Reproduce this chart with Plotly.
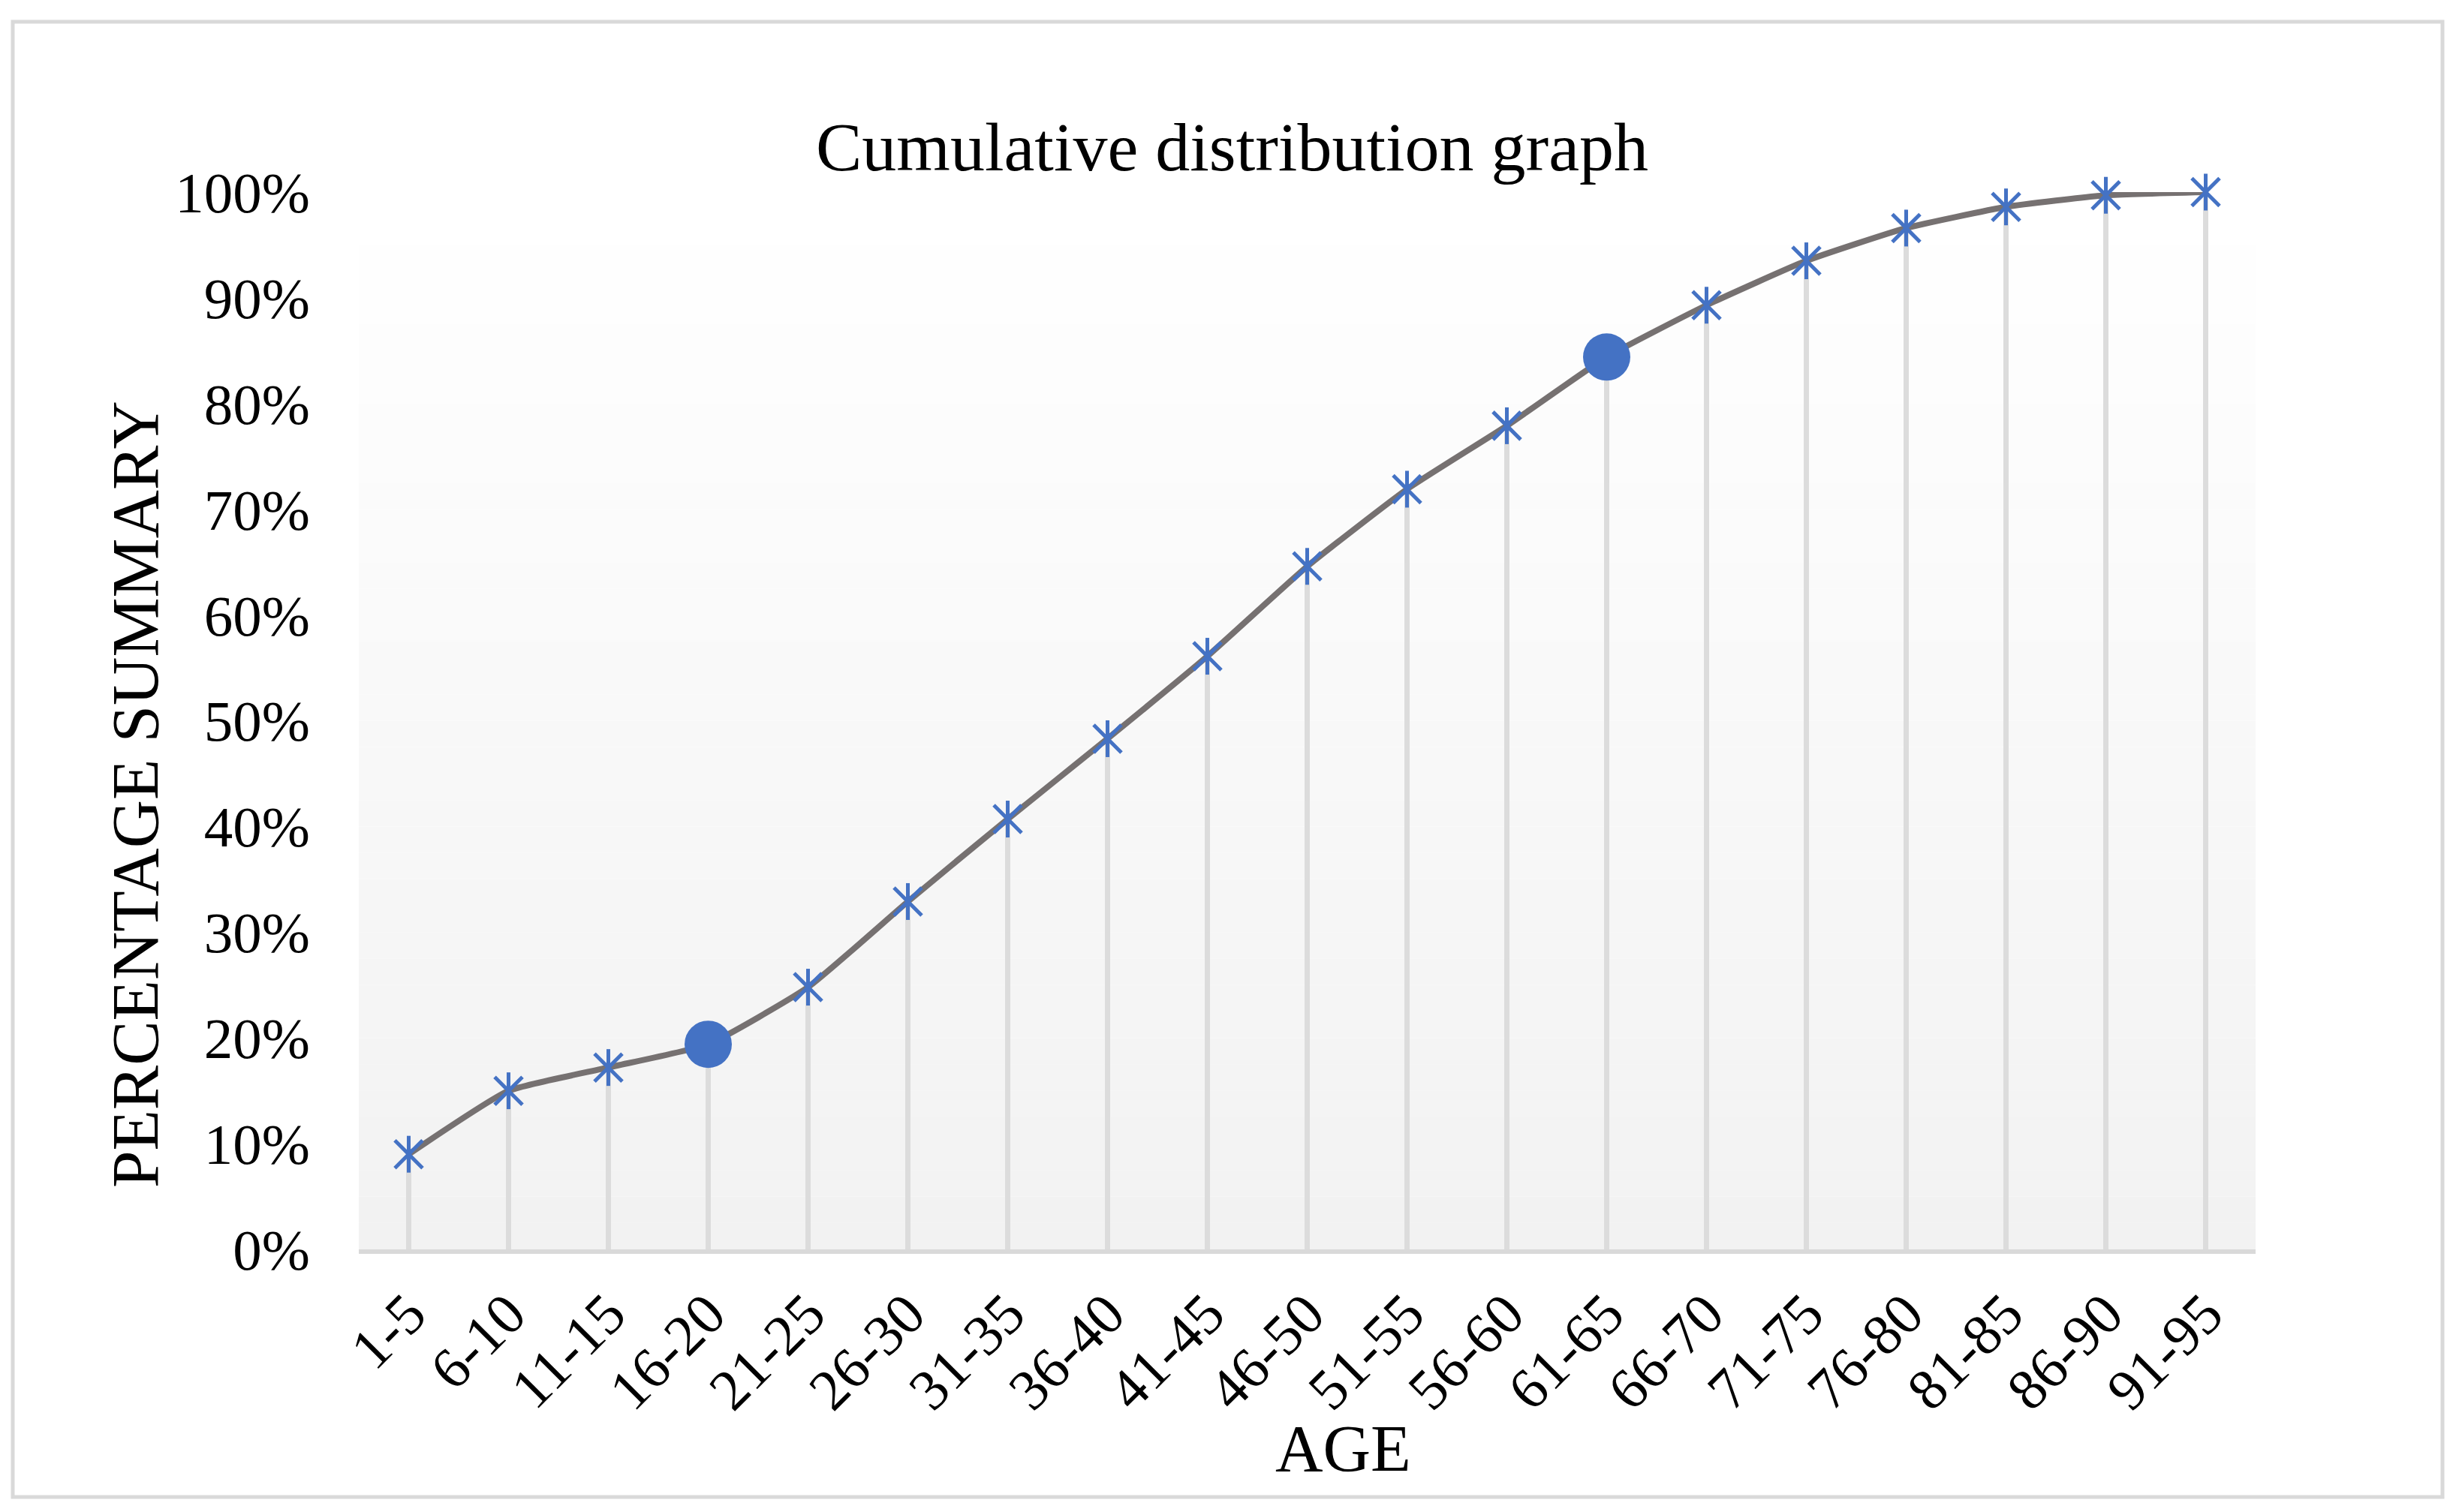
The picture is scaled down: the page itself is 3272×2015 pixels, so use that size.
import plotly.graph_objects as go

# ---- data ----
age_groups = ["1-5", "6-10", "11-15", "16-20", "21-25", "26-30", "31-35", "36-40",
              "41-45", "46-50", "51-55", "56-60", "61-65", "66-70", "71-75", "76-80",
              "81-85", "86-90", "91-95"]
cumulative = [0.090, 0.150, 0.172, 0.194, 0.248, 0.329, 0.407, 0.483,
              0.561, 0.646, 0.719, 0.779, 0.844, 0.893, 0.935, 0.966,
              0.986, 0.997, 1.000]
highlighted = ["16-20", "61-65"]
y_ticks = [0, 0.1, 0.2, 0.3, 0.4, 0.5, 0.6, 0.7, 0.8, 0.9, 1.0]

# ---- layout geometry (page pixels; the page body adds an 8px offset) ----
OFF = 8
W, H = 3272 - 2 * OFF, 2015 - 2 * OFF
PL, PR, PT, PB = 478 - OFF, 3005 - OFF, 256 - OFF, 1665 - OFF
FONT = "Liberation Serif, Times New Roman, serif"
BLUE = "#4472C4"


def px_x(px):
    return (px - OFF - PL) / (PR - PL)


def px_y(py):
    return (PB - (py - OFF)) / (PB - PT)


fig = go.Figure()

# drop lines from each point down to the axis
fig.add_trace(go.Scatter(
    x=age_groups, y=cumulative, mode="markers",
    marker=dict(size=1, opacity=0),
    error_y=dict(type="data", symmetric=False, array=[0] * len(cumulative),
                 arrayminus=cumulative, color="#dcdcdc", thickness=7, width=0),
    hoverinfo="skip", showlegend=False, cliponaxis=False,
))

# smoothed line
fig.add_trace(go.Scatter(
    x=age_groups, y=cumulative, mode="lines",
    line=dict(color="#767171", width=8, shape="spline", smoothing=0.45),
    showlegend=False, cliponaxis=False,
))

# star markers (X + vertical bar)
star_x = [a for a in age_groups if a not in highlighted]
star_y = [v for a, v in zip(age_groups, cumulative) if a not in highlighted]
fig.add_trace(go.Scatter(
    x=star_x, y=star_y, mode="markers",
    marker=dict(symbol="x-thin-open", size=37, color=BLUE,
                line=dict(color=BLUE, width=5)),
    showlegend=False, cliponaxis=False,
))
fig.add_trace(go.Scatter(
    x=star_x, y=star_y, mode="markers",
    marker=dict(symbol="line-ns-open", size=35, color=BLUE,
                line=dict(color=BLUE, width=5)),
    showlegend=False, cliponaxis=False,
))

# highlighted points
hi_y = [v for a, v in zip(age_groups, cumulative) if a in highlighted]
fig.add_trace(go.Scatter(
    x=highlighted, y=hi_y, mode="markers",
    marker=dict(symbol="circle", size=63, color=BLUE, line=dict(width=0)),
    showlegend=False, cliponaxis=False,
))

# background gradient bands (white at top to #f2f2f2 at bottom)
shapes = []
n_bands = 40
for i in range(n_bands):
    t = (i + 0.5) / n_bands  # 0 bottom .. 1 top
    c = int(round(242 + (255 - 242) * t))
    shapes.append(dict(type="rect", xref="x domain", yref="y domain",
                       x0=0, x1=1, y0=i / n_bands, y1=(i + 1) / n_bands,
                       fillcolor=f"rgb({c},{c},{c})", line=dict(width=0),
                       layer="below"))
# outer chart border
shapes.append(dict(type="rect", xref="paper", yref="paper",
                   x0=px_x(17), x1=px_x(3254), y0=px_y(1995), y1=px_y(29),
                   line=dict(color="#d9d9d9", width=5), fillcolor="rgba(0,0,0,0)",
                   layer="below"))

annotations = [
    dict(text="Cumulative distribution graph", xref="paper", yref="paper",
         x=px_x(1641), y=px_y(196), showarrow=False, xanchor="center", yanchor="middle",
         font=dict(family=FONT, size=92, color="black")),
    dict(text="AGE", xref="paper", yref="paper",
         x=px_x(1789), y=px_y(1931), showarrow=False, xanchor="center", yanchor="middle",
         font=dict(family=FONT, size=88, color="black")),
    dict(text="PERCENTAGE SUMMARY", xref="paper", yref="paper", textangle=-90,
         x=px_x(180), y=px_y(1059), showarrow=False, xanchor="center", yanchor="middle",
         font=dict(family=FONT, size=89, color="black")),
]

fig.update_layout(
    width=W, height=H,
    margin=dict(l=PL, r=W - PR, t=PT, b=H - PB, pad=0),
    paper_bgcolor="white", plot_bgcolor="white",
    shapes=shapes, annotations=annotations,
    font=dict(family=FONT, size=77, color="black"),
    xaxis=dict(type="category", categoryorder="array", categoryarray=age_groups,
               range=[-0.5, len(age_groups) - 0.5],
               showgrid=False, zeroline=False, showline=True,
               linecolor="#d9d9d9", linewidth=6, ticks="",
               tickangle=-45, ticklabelstandoff=4,
               tickfont=dict(family=FONT, size=77, color="black")),
    yaxis=dict(range=[0, 1], tickvals=y_ticks, tickformat=".0%",
               showgrid=False, zeroline=False, showline=False, ticks="",
               ticklabelstandoff=64,
               tickfont=dict(family=FONT, size=77, color="black")),
)

fig.write_html("out.html")
